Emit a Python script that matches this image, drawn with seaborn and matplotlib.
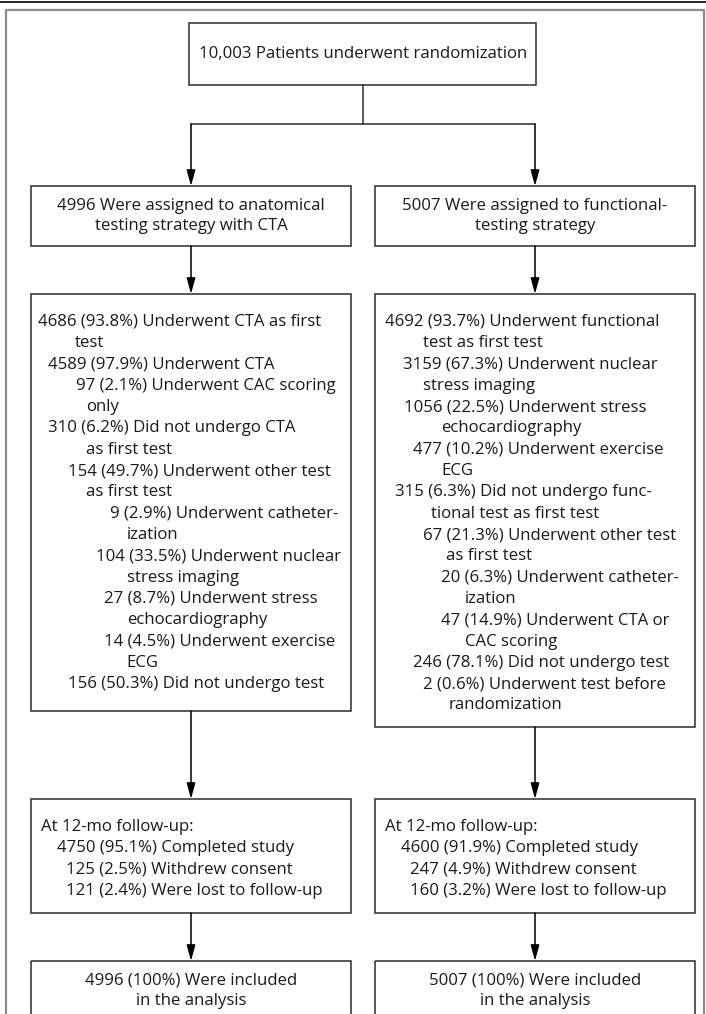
import seaborn as sns
import matplotlib.pyplot as plt
from matplotlib.patches import Rectangle

# flow chart text, top to bottom
top_text = "10,003 Patients underwent randomization"
arm_text = ["4996 Were assigned to anatomical\ntesting strategy with CTA",
            "5007 Were assigned to functional-\ntesting strategy"]

left_lines = ["4686 (93.8%) Underwent CTA as first",
              "test",
              "4589 (97.9%) Underwent CTA",
              "97 (2.1%) Underwent CAC scoring",
              "only",
              "310 (6.2%) Did not undergo CTA",
              "as first test",
              "154 (49.7%) Underwent other test",
              "as first test",
              "9 (2.9%) Underwent catheter-",
              "ization",
              "104 (33.5%) Underwent nuclear",
              "stress imaging",
              "27 (8.7%) Underwent stress",
              "echocardiography",
              "14 (4.5%) Underwent exercise",
              "ECG",
              "156 (50.3%) Did not undergo test"]
right_lines = ["4692 (93.7%) Underwent functional",
               "test as first test",
               "3159 (67.3%) Underwent nuclear",
               "stress imaging",
               "1056 (22.5%) Underwent stress",
               "echocardiography",
               "477 (10.2%) Underwent exercise",
               "ECG",
               "315 (6.3%) Did not undergo func-",
               "tional test as first test",
               "67 (21.3%) Underwent other test",
               "as first test",
               "20 (6.3%) Underwent catheter-",
               "ization",
               "47 (14.9%) Underwent CTA or",
               "CAC scoring",
               "246 (78.1%) Did not undergo test",
               "2 (0.6%) Underwent test before",
               "randomization"]

followup_left = ["At 12-mo follow-up:",
                 "4750 (95.1%) Completed study",
                 "125 (2.5%) Withdrew consent",
                 "121 (2.4%) Were lost to follow-up"]
followup_right = ["At 12-mo follow-up:",
                  "4600 (91.9%) Completed study",
                  "247 (4.9%) Withdrew consent",
                  "160 (3.2%) Were lost to follow-up"]

analysis_text = ["4996 (100%) Were included\nin the analysis",
                 "5007 (100%) Were included\nin the analysis"]

# indents (px from left of page) for the detail lines
left_x = [38, 75, 48, 76, 86, 48, 86, 68, 86, 110, 127, 96, 127, 104, 127, 104, 126, 68]
right_x = [385, 423, 403, 423, 404, 441, 413, 441, 395, 431, 423, 446, 441, 465, 441, 465, 413, 423, 449]
follow_dx = [10, 26, 35, 35]

sns.set_theme(style="white")
plt.rcParams['font.family'] = ['Open Sans', 'DejaVu Sans']

fig = plt.figure(figsize=(7.06, 10.14), dpi=100)
ax = fig.add_axes([0, 0, 1, 1])
ax.set_xlim(0, 706)
ax.set_ylim(1014, 0)
ax.axis('off')

edge = '#2b2b2b'
txt = '#1a1a1a'
fs = 12.1
lw = 1.1


def box(x0, y0, x1, y1):
    ax.add_patch(Rectangle((x0, y0), x1 - x0, y1 - y0, fill=False, ec=edge, lw=lw))


def arrow(x, y0, y1):
    ax.annotate("", xy=(x, y1), xytext=(x, y0),
                arrowprops=dict(arrowstyle="-|>,head_length=0.95,head_width=0.26",
                                mutation_scale=10, color='black', lw=lw,
                                shrinkA=0, shrinkB=0))


# page rules
ax.plot([0, 706], [2, 2], color='black', lw=1.2)
ax.plot([5.5, 5.5, 703.5, 703.5], [1014, 10, 10, 1014], color='#8c8c8c', lw=1.6)

cols = [(31, 351), (375, 695)]
cx = [191, 535]

# randomization box
box(189, 23, 536, 85)
ax.text(363, 54, top_text, ha='center', va='center', fontsize=fs, color=txt)
ax.plot([363, 363], [85, 124], color=edge, lw=lw)
ax.plot([cx[0], cx[1]], [124, 124], color=edge, lw=lw)

y3_top = 294
line_h = 21.3
y3_first = 322
y3_bottom = [711, 727]

for i in range(2):
    arrow(cx[i], 124, 186)
    box(cols[i][0], 186, cols[i][1], 246)
    ax.text(cx[i], 216, arm_text[i], ha='center', va='center', fontsize=fs,
            color=txt, linespacing=1.34)
    arrow(cx[i], 246, y3_top)
    box(cols[i][0], y3_top, cols[i][1], y3_bottom[i])
    lines = [left_lines, right_lines][i]
    xs = [left_x, right_x][i]
    for k, (s, x) in enumerate(zip(lines, xs)):
        ax.text(x, y3_first + k * line_h, s, ha='left', va='center',
                fontsize=fs, color=txt)
    arrow(cx[i], y3_bottom[i], 799)
    box(cols[i][0], 799, cols[i][1], 913)
    flines = [followup_left, followup_right][i]
    for k, s in enumerate(flines):
        ax.text(cols[i][0] + follow_dx[k], 827 + k * line_h, s, ha='left',
                va='center', fontsize=fs, color=txt)
    arrow(cx[i], 913, 961)
    box(cols[i][0], 961, cols[i][1], 1040)
    ax.text(cx[i], 991, analysis_text[i], ha='center', va='center',
            fontsize=fs, color=txt, linespacing=1.34)

fig.savefig("out.png", dpi=100)
